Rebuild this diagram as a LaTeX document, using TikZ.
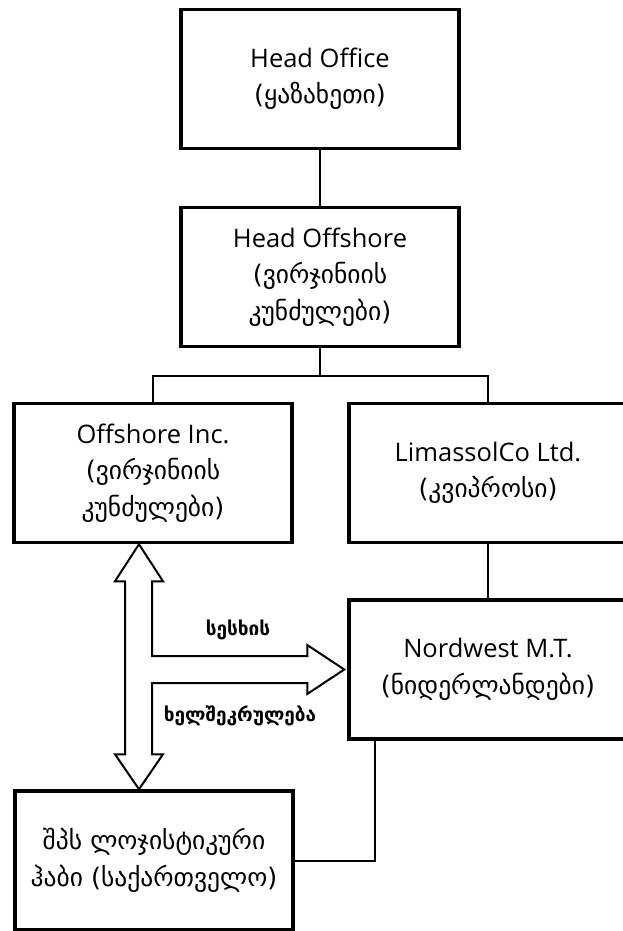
\documentclass[tikz,border=0pt]{standalone}
\usepackage{fontspec}
\setmainfont{Open Sans}
\newfontfamily\geofont{DejaVu Sans}
\newcommand{\geo}[1]{{\geofont #1}}
\usetikzlibrary{calc}

\begin{document}
\begin{tikzpicture}
[x=1pt,y=-1pt,
  boxDecorate/.style={shape=rectangle,draw,line width=3.5pt,minimum width=278pt,minimum height=139pt,inner sep=2pt,align=center,font=\fontsize{25.5}{36.5}\selectfont},%
  lineDecorate/.style={line width=2pt},%
  arrowDecorate/.style={draw,line width=2pt,line join=miter},%
  labelDecorate/.style={font=\fontsize{19}{22}\selectfont\geofont\bfseries}]
\useasboundingbox (0,0) rectangle (622,931);
%% nodes or vertices
\foreach \nodename/\x/\y/\txt in {
  ho/320/79/{Head Office\\\geo{(ყაზახეთი)}},
  hoff/320/277/{Head Offshore\\\geo{(ვირჯინიის}\\\geo{კუნძულები)}},
  off/153/473/{Offshore Inc.\\\geo{(ვირჯინიის}\\\geo{კუნძულები)}},
  lim/488/473/{LimassolCo Ltd.\\\geo{(კვიპროსი)}},
  nw/488/669.5/{Nordwest M.T.\\\geo{(ნიდერლანდები)}},
  hub/154/860.5/{\geo{შპს ლოჯისტიკური}\\\geo{ჰაბი (საქართველო)}}}
{
  \node (\nodename) at (\x,\y) [boxDecorate] {\txt};
}
\node (loan) at (238,630) [labelDecorate] {სესხის};
\node (contract) at (240,716) [labelDecorate] {ხელშეკრულება};
%% edges or lines
\path
\foreach \startnode/\endnode in {ho/hoff, lim/nw}
{
  (\startnode) edge[lineDecorate] (\endnode)
};
\coordinate (bus) at ($(hoff.south)+(0,28)$);
\draw[lineDecorate] (hoff.south) -- (bus);
\draw[lineDecorate] (off.north) |- (bus) -| (lim.north);
\draw[lineDecorate] ([xshift=28pt]nw.south west) |- (hub.east);
%% block arrow
\coordinate (atop) at ([xshift=-14pt]off.south);
\coordinate (abot) at ([xshift=-15pt]hub.north);
\coordinate (aright) at ([xshift=-3pt]nw.west);
\path[arrowDecorate] (atop) -- ++(24,37) -- ++(-11,0)
  |- ($(aright)+(-37,-13.5)$) -- ++(0,-11) -- (aright) -- ++(-37,24.5) -- ++(0,-11)
  -| ($(abot)+(13,-35)$) -- ++(11,0) -- (abot) -- ++(-24,-35) -- ++(10,0)
  |- ($(atop)+(-14,37)$) -- ++(-10,0) -- cycle;
\end{tikzpicture}
\end{document}
